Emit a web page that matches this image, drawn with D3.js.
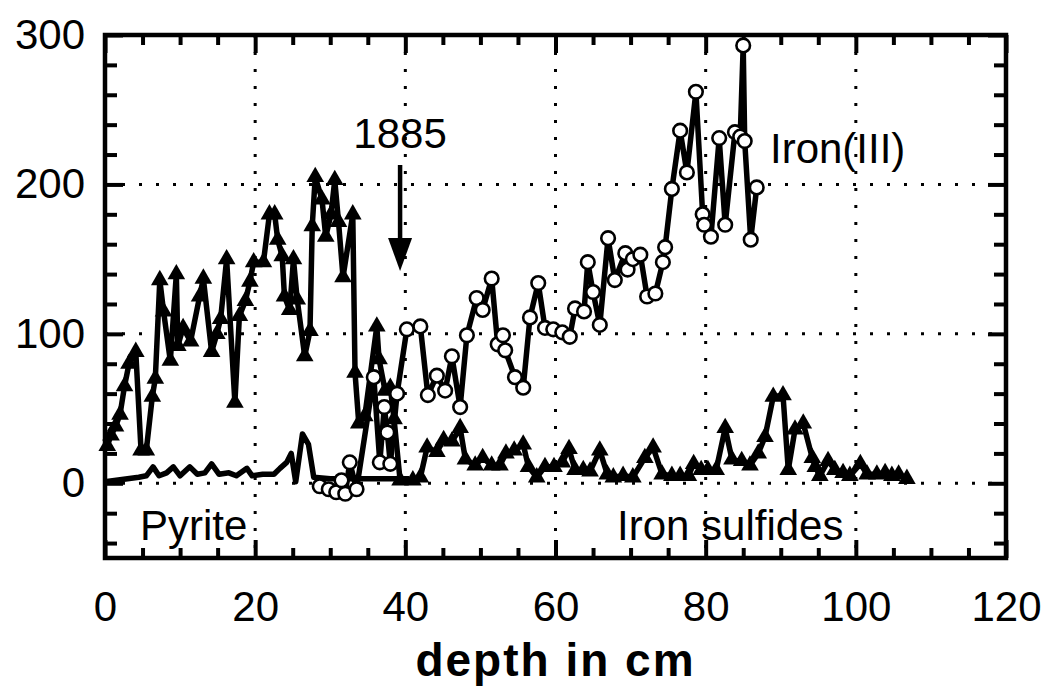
<!DOCTYPE html>
<html lang="en">
<head>
<meta charset="utf-8">
<title>depth profile</title>
<script src="https://cdn.jsdelivr.net/npm/d3@7"></script>
<style>
  body { margin: 0; background: #fff; }
  svg text { font-family: "Liberation Sans", Arial, sans-serif; fill: #000; }
  .axis path { display: none; }
  .axis line { stroke: #000; stroke-width: 4; }
  .grid line { stroke: #000; stroke-width: 3; stroke-dasharray: 3 14; }
</style>
</head>
<body>
<svg id="chart" width="1044" height="690"></svg>
<script>
// x ticks / y ticks
var xMajor = [0, 20, 40, 60, 80, 100, 120];
var yMajor = [0, 100, 200, 300];
var xGrid = [20, 40, 60, 80, 100];
var yGrid = [0, 100, 200];

// thick line + filled triangles, [depth, value]
var triSeries = [
  [0.3, 25], [0.8, 32], [1.4, 38], [2.0, 46], [2.6, 65], [3.2, 80], [4.1, 88], [4.8, 22],
  [5.5, 22], [6.3, 58], [6.7, 70], [7.3, 136], [7.8, 115], [8.7, 82], [9.5, 140], [9.7, 92],
  [10.4, 104], [11.4, 95], [12.6, 125], [13.1, 137], [14.2, 88], [14.9, 100], [15.4, 110],
  [16.2, 150], [17.3, 54], [17.9, 112], [18.7, 122], [19.3, 135], [19.8, 148], [21.1, 148],
  [21.9, 180], [22.6, 180], [23.0, 163], [23.6, 152], [23.9, 125], [24.6, 116], [25.1, 150],
  [25.6, 123], [26.6, 85], [27.3, 102], [27.6, 172], [28.0, 205], [28.9, 190], [29.4, 165],
  [30.1, 180], [30.6, 203], [31.1, 175], [31.7, 138], [33.0, 180], [33.3, 74], [33.8, 40],
  [34.6, 45], [36.2, 105], [36.5, 83], [37.3, 62], [38.0, 64], [38.5, 43], [39.3, 2],
  [41.0, 2], [42.0, 4], [42.9, 24], [44.2, 21], [45.1, 29], [46.2, 28], [47.3, 37],
  [48.0, 16], [49.3, 12], [50.3, 17], [51.5, 12], [52.6, 12], [53.4, 20], [54.5, 22],
  [55.7, 26], [56.4, 11], [57.5, 4], [58.6, 11], [59.8, 11], [60.9, 14], [61.8, 23],
  [62.6, 9], [63.7, 9], [64.6, 8], [65.9, 22], [66.9, 6], [67.7, 4], [69.0, 5], [70.3, 4],
  [71.9, 17], [73.0, 24], [74.2, 6], [75.5, 5], [76.6, 5], [77.7, 5], [78.4, 13], [79.4, 9],
  [80.3, 9], [81.4, 9], [82.6, 37], [83.5, 16], [84.8, 15], [85.9, 12], [87.0, 20],
  [87.9, 31], [89.0, 58], [90.3, 59], [91.0, 9], [91.9, 36], [93.0, 40], [94.2, 17],
  [94.6, 11], [95.2, 5], [96.3, 15], [97.2, 9], [98.3, 7], [99.2, 5], [100.6, 13],
  [101.5, 6], [102.8, 6], [103.9, 7], [104.8, 5], [105.7, 6], [106.8, 3]
];

// line without markers near zero
var lineSeries = [
  [0, 1], [1.5, 2], [3, 3], [4.5, 4], [5.5, 5], [6.4, 11], [7.2, 5], [8.2, 7], [9.1, 11],
  [10, 5], [11.3, 11], [12.3, 6], [13.3, 7], [14.2, 13], [15.2, 6], [16.5, 7], [17.5, 5],
  [18.9, 10], [19.6, 5], [21, 6], [22.5, 6], [23.3, 10], [24.2, 14], [24.8, 20], [25.4, 1],
  [26.3, 33], [27.1, 26], [27.8, 4], [30, 3], [33, 3], [36, 3], [39, 3], [40.5, 3]
];

// Iron(III), open circles
var circleSeries = [
  [28.6, -2], [29.8, -4], [30.8, -6], [31.5, 2], [32.0, -7], [32.6, 14], [33.5, -4],
  [35.8, 71], [36.6, 14], [37.2, 51], [37.6, 34], [38.0, 13], [38.9, 60], [40.2, 103],
  [42.0, 105], [43.0, 59], [44.2, 72], [45.3, 62], [46.2, 85], [47.3, 51], [48.2, 99],
  [49.5, 124], [50.3, 116], [51.5, 137], [52.3, 93], [53.0, 99], [53.3, 89], [54.6, 71],
  [55.7, 64], [56.6, 111], [57.7, 134], [58.6, 104], [59.7, 103], [60.9, 101], [61.9, 98],
  [62.6, 117], [63.8, 115], [64.3, 148], [65.0, 128], [65.9, 106], [67.0, 164], [67.9, 136],
  [69.3, 154], [69.6, 143], [70.3, 150], [71.3, 153], [72.2, 125], [73.3, 127], [74.3, 148],
  [74.6, 158], [75.5, 197], [76.6, 236], [77.5, 208], [78.7, 262], [79.6, 180], [79.8, 173],
  [80.7, 165], [81.8, 231], [82.6, 173], [83.9, 235], [84.6, 232], [85.0, 293], [85.2, 229],
  [86.0, 163], [86.8, 198]
];

var svg = d3.select("#chart");

var x = d3.scaleLinear().domain([0, 120]).range([105, 1006]);
var y = d3.scaleLinear().domain([-50, 300]).range([558, 35]);

//grid
svg.append("g").attr("class", "grid")
  .selectAll("line").data(xGrid).enter().append("line")
  .attr("x1", d => x(d)).attr("x2", d => x(d))
  .attr("y1", y(300)).attr("y2", y(-50));
svg.append("g").attr("class", "grid")
  .selectAll("line").data(yGrid).enter().append("line")
  .attr("x1", x(0)).attr("x2", x(120))
  .attr("y1", d => y(d)).attr("y2", d => y(d));

// minor ticks, inward on all four sides
var xMinor = d3.range(0, 121, 5).filter(d => d % 20 != 0);
var yMinor = d3.range(-40, 301, 20).filter(d => d % 100 != 0);

function tickAxes(vals, len, labels) {
  svg.append("g").attr("class", "axis").attr("transform", "translate(0," + y(-50) + ")")
    .call(d3.axisBottom(x).tickValues(vals).tickSize(-len).tickFormat(labels ? d3.format("d") : "").tickPadding(33));
  svg.append("g").attr("class", "axis").attr("transform", "translate(0," + y(300) + ")")
    .call(d3.axisTop(x).tickValues(vals).tickSize(-len).tickFormat(""));
}
function tickAxesY(vals, len, labels) {
  svg.append("g").attr("class", "axis").attr("transform", "translate(" + x(0) + ",0)")
    .call(d3.axisLeft(y).tickValues(vals).tickSize(-len).tickFormat(labels ? d3.format("d") : "").tickPadding(20));
  svg.append("g").attr("class", "axis").attr("transform", "translate(" + x(120) + ",0)")
    .call(d3.axisRight(y).tickValues(vals).tickSize(-len).tickFormat(""));
}
tickAxes(xMinor, 10, false);
tickAxes(xMajor, 18, true);
tickAxesY(yMinor, 12, false);
tickAxesY(yMajor, 18, true);
svg.selectAll(".axis text").attr("font-size", 42).attr("fill", "#000");

// lines
var line = d3.line().x(d => x(d[0])).y(d => y(d[1]));

svg.append("path").datum(lineSeries).attr("d", line)
  .attr("fill", "none").attr("stroke", "#000").attr("stroke-width", 5.5).attr("stroke-linejoin", "round");

svg.append("path").datum(triSeries).attr("d", line)
  .attr("fill", "none").attr("stroke", "#000").attr("stroke-width", 5.5).attr("stroke-linejoin", "round");

svg.selectAll(".tri").data(triSeries).enter().append("path")
  .attr("class", "tri")
  .attr("d", d3.symbol().type(d3.symbolTriangle).size(135))
  .attr("transform", d => "translate(" + x(d[0]) + "," + y(d[1]) + ")")
  .attr("fill", "#000");

svg.append("path").datum(circleSeries).attr("d", line)
  .attr("fill", "none").attr("stroke", "#000").attr("stroke-width", 5.5).attr("stroke-linejoin", "round");

svg.selectAll(".circ").data(circleSeries).enter().append("circle")
  .attr("class", "circ")
  .attr("cx", d => x(d[0])).attr("cy", d => y(d[1])).attr("r", 6.8)
  .attr("fill", "#fff").attr("stroke", "#000").attr("stroke-width", 2.6);

// frame
svg.append("rect")
  .attr("x", x(0)).attr("y", y(300))
  .attr("width", x(120) - x(0)).attr("height", y(-50) - y(300))
  .attr("fill", "none").attr("stroke", "#000").attr("stroke-width", 4.5);

// 1885 arrow
svg.append("line").attr("x1", x(39.3)).attr("x2", x(39.3)).attr("y1", 165).attr("y2", 245)
  .attr("stroke", "#000").attr("stroke-width", 4.5);
svg.append("path")
  .attr("d", "M" + (x(39.3) - 12) + ",238 L" + (x(39.3) + 12) + ",238 L" + x(39.3) + ",271 Z")
  .attr("fill", "#000");
svg.append("text").attr("x", x(39.3)).attr("y", 148).attr("text-anchor", "middle")
  .attr("font-size", 42).text("1885");

// series labels
svg.append("text").attr("x", 770).attr("y", 163).attr("font-size", 42).text("Iron(III)");
svg.append("text").attr("x", 140).attr("y", 540).attr("font-size", 42).text("Pyrite");
svg.append("text").attr("x", 617).attr("y", 540).attr("font-size", 42).text("Iron sulfides");

// axis title
svg.append("text").attr("x", x(60)).attr("y", 676).attr("text-anchor", "middle")
  .attr("font-size", 46).attr("font-weight", "bold").attr("letter-spacing", 2)
  .text("depth in cm");
</script>
</body>
</html>
